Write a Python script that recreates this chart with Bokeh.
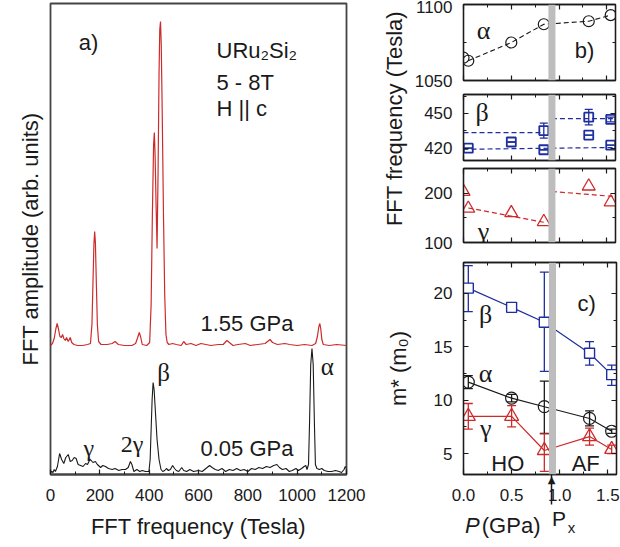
import math
from bokeh.plotting import figure
from bokeh.models import (Range1d, LinearAxis, FixedTicker, PrintfTickFormatter, Label,
                          Span, Whisker, TeeHead, ColumnDataSource, CustomLabelingPolicy, GridBox)
from bokeh.layouts import row, column
from bokeh.embed import file_html
from bokeh.resources import INLINE

# ---------------- panel a) FFT spectra ----------------
freq_155 = [0, 8, 15, 22, 27, 32, 38, 44, 49, 54, 60, 65, 72, 80, 86, 95, 110, 130, 150, 162,
            168, 172, 176, 179, 182, 186, 190, 195, 205, 230, 250, 262, 275, 300, 330, 345,
            352, 360, 366, 372, 390, 402, 408, 413, 418, 421, 424, 428, 432, 436, 440, 443,
            446, 449, 453, 458, 463, 468, 473, 480, 495, 510, 530, 540, 550, 570, 590, 610,
            630, 650, 680, 700, 715, 725, 740, 760, 790, 810, 840, 870, 890, 900, 920, 950,
            970, 1000, 1030, 1060, 1075, 1082, 1088, 1092, 1096, 1100, 1106, 1130, 1160, 1200]
amp_155 = [129, 131, 136, 146, 151, 146, 138, 137, 140, 136, 134, 137, 133, 137, 132, 130, 129,
           129, 130, 131, 150, 190, 230, 243, 232, 190, 150, 133, 130, 130, 131, 133, 130, 129,
           129, 131, 136, 142, 137, 130, 129, 132, 170, 260, 330, 342, 320, 270, 226, 300, 400,
           445, 453, 430, 360, 260, 180, 140, 132, 130, 131, 130, 129, 133, 130, 131, 129, 131,
           130, 129, 130, 130, 134, 132, 129, 130, 131, 129, 130, 131, 135, 132, 130, 131, 130,
           129, 130, 129, 131, 138, 148, 151, 145, 135, 130, 129, 130, 129]

freq_005 = [0, 5, 10, 15, 20, 28, 37, 45, 54, 62, 72, 80, 88, 96, 104, 112, 122, 132, 142, 150,
            160, 165, 172, 182, 190, 203, 212, 223, 235, 250, 262, 277, 290, 304, 315, 324, 330,
            338, 350, 362, 372, 385, 399, 404, 408, 412, 416, 420, 426, 432, 440, 448, 455, 463,
            470, 478, 486, 495, 503, 510, 520, 532, 540, 552, 565, 580, 600, 615, 630, 645, 655,
            668, 680, 695, 710, 725, 740, 755, 770, 785, 800, 815, 830, 845, 860, 875, 890, 905,
            918, 928, 940, 955, 968, 980, 995, 1005, 1018, 1028, 1035, 1040, 1046, 1050, 1055,
            1060, 1065, 1070, 1074, 1080, 1090, 1100, 1110, 1125, 1140, 1155, 1170, 1180, 1190,
            1195, 1200]
amp_005 = [2, 3, 2, 5, 3, 8, 21, 15, 11, 17, 20, 13, 14, 17, 16, 10, 9, 8, 11, 10, 15, 14, 12,
           13, 10, 7, 9, 8, 6, 5, 6, 4, 5, 5, 7, 13, 10, 3, 5, 3, 4, 3, 3, 15, 45, 75, 92, 85, 60,
           35, 15, 5, 3, 4, 6, 4, 5, 9, 6, 4, 3, 7, 4, 3, 5, 3, 4, 3, 6, 9, 7, 5, 4, 6, 3, 5, 4, 6,
           4, 5, 3, 6, 5, 7, 6, 8, 7, 9, 10, 7, 5, 6, 3, 4, 6, 4, 6, 8, 9, 5, 10, 50, 110, 126,
           110, 50, 10, 6, 5, 6, 4, 3, 3, 4, 3, 2, 5, 8, 6]

freq_ticks = [0, 200, 400, 600, 800, 1000, 1200]
freq_minor = [100, 300, 500, 700, 900, 1100]

# ---------------- panel b) frequencies vs pressure ----------------
P_alpha_f = [0.0, 0.05, 0.5, 0.84, 1.31, 1.54]
F_alpha = [1065, 1063, 1075, 1087, 1089, 1093]

P_beta_f = [0.05, 0.5, 0.84, 0.84, 1.31, 1.31, 1.54, 1.54]
F_beta = [420, 425.3, 418.6, 435.2, 446.8, 431.3, 444.8, 422.6]
F_beta_err = [0, 0, 0, 6.5, 6.7, 0, 2.0, 0]
beta_lo_P = [0.0, 1.59]
beta_lo_F = [419.0, 420.6]
beta_hiL_P = [0.0, 0.84]
beta_hiL_F = [433.5, 433.5]
beta_hiR_P = [0.925, 1.59]
beta_hiR_F = [445.6, 445.6]

P_gamma_f = [0.0, 0.05, 0.5, 0.84, 1.31, 1.54]
F_gamma = [203, 169, 160, 142, 214, 182]
gamma_L_P = [0.05, 0.84]
gamma_L_F = [170, 141]
gamma_R_P = [0.925, 1.59]
gamma_R_F = [203.4, 193]

# ---------------- panel c) effective masses ----------------
P_mass = [0.05, 0.5, 0.84, 1.31, 1.54]
m_beta = [20.5, 18.7, 17.3, 14.4, 12.4]
m_beta_lo = [18.3, 18.5, 12.7, 13.3, 11.4]
m_beta_hi = [22.6, 18.9, 22.0, 15.5, 13.3]
m_alpha = [11.7, 10.2, 9.4, 8.3, 7.1]
m_alpha_lo = [11.1, 9.85, 6.9, 7.6, 6.9]
m_alpha_hi = [12.3, 10.55, 11.8, 9.0, 7.3]
m_gamma = [8.5, 8.5, 5.3, 6.6, 5.4]
m_gamma_lo = [7.3, 7.5, 3.35, 5.8, 5.0]
m_gamma_hi = [9.7, 9.5, 6.85, 7.4, 5.8]

P_x = 0.925
P_arrow = 0.915
P_lo, P_hi = 0.0, 1.59
P_ticks = [0.0, 0.5, 1.0, 1.5]
P_minor = [0.25, 0.75, 1.25]
M_lo, M_hi = 3.05, 22.9

RED = "#cc2b2b"
BLUE = "#1f2e9e"
BLK = "#1a1a1a"
GRAY = "#bdbdbd"
SANS = "Liberation Sans"
SERIF = "Liberation Serif"

HIDE = "for (const i of indices) { indices.unset(i) }\nreturn indices"


def hide_labels(ax):
    ax.major_label_text_font_size = "1px"
    ax.major_label_standoff = 0
    ax.major_label_policy = CustomLabelingPolicy(code=HIDE)


def style_axis(ax, ticks, minor, labels=True, fmt=None, standoff=11):
    ax.ticker = FixedTicker(ticks=ticks, minor_ticks=minor)
    ax.major_tick_in = 5
    ax.major_tick_out = 0
    ax.minor_tick_in = 3
    ax.minor_tick_out = 0
    ax.axis_line_color = BLK
    ax.axis_line_width = 1.3
    ax.major_tick_line_color = BLK
    ax.minor_tick_line_color = BLK
    ax.major_tick_line_width = 1.2
    ax.minor_tick_line_width = 1.0
    if labels:
        ax.major_label_text_font = SANS
        ax.major_label_text_font_size = "17px"
        ax.major_label_text_color = BLK
        ax.major_label_standoff = standoff
        if fmt:
            ax.formatter = PrintfTickFormatter(format=fmt)
    else:
        hide_labels(ax)


def axis_title(ax, text, standoff):
    ax.axis_label = text
    ax.axis_label_text_font = SANS
    ax.axis_label_text_font_size = "22px"
    ax.axis_label_text_font_style = "normal"
    ax.axis_label_text_color = BLK
    ax.axis_label_standoff = standoff


def mk_label(x, y, text, size="22px", font=SANS, align="center", style="normal", color=BLK, angle=0):
    return Label(x=x, y=y, text=text, text_font=font, text_font_size=size,
                 text_align=align, text_baseline="middle", text_color=color,
                 text_font_style=style, angle=angle)


def lab(p, *args, **kw):
    p.add_layout(mk_label(*args, **kw))


def bare(width, height, xr, yr, left=0, right=0, top=0, bottom=0):
    p = figure(width=width, height=height, x_range=xr, y_range=yr,
               output_backend="svg", toolbar_location=None, x_axis_type=None, y_axis_type=None,
               min_border_left=left, min_border_right=right, min_border_top=top,
               min_border_bottom=bottom, background_fill_color=None, border_fill_color=None)
    p.outline_line_color = None
    p.grid.visible = False
    return p


# ---------------- left figure: a) ----------------
pa = figure(width=380, height=547, x_range=Range1d(0, 1200), y_range=Range1d(0, 471),
            output_backend="svg", toolbar_location=None,
            min_border_left=50, min_border_right=34, min_border_top=3, min_border_bottom=73)
pa.grid.visible = False
pa.outline_line_color = "#444444"
pa.outline_line_width = 1.8
style_axis(pa.xaxis[0], freq_ticks, freq_minor, fmt="%d", standoff=14)
axis_title(pa.xaxis[0], "FFT frequency (Tesla)", 10)
pa.xaxis[0].axis_line_color = "#444444"
pa.xaxis[0].axis_line_width = 1.8
ya = pa.yaxis[0]
ya.ticker = FixedTicker(ticks=[])
ya.axis_line_color = None
axis_title(ya, "FFT amplitude (arb. units)", 8)

pa.line(freq_155, amp_155, line_color=RED, line_width=1.2)
pa.line(freq_005, amp_005, line_color=BLK, line_width=1.1)

lab(pa, 154, 432, "a)")
lab(pa, 673, 424, "URu₂Si₂", align="left")
lab(pa, 673, 392, "5 - 8T", align="left")
lab(pa, 673, 366, "H || c", align="left")
lab(pa, 608, 151, "1.55 GPa", align="left")
lab(pa, 608, 26, "0.05 GPa", align="left")
lab(pa, 459, 102, "β", size="25px", font=SERIF)
lab(pa, 1122, 108, "α", size="25px", font=SERIF)
lab(pa, 155, 27, "γ", size="24px", font=SERIF)
lab(pa, 331, 31, "2γ", size="24px", font=SERIF)


# ---------------- right panels ----------------
def panel(width, height, y0, y1, left, top, bottom, yt, ym, xlabels=False):
    p = figure(width=width, height=height, x_range=Range1d(P_lo, P_hi), y_range=Range1d(y0, y1),
               output_backend="svg", toolbar_location=None,
               min_border_left=left, min_border_right=1, min_border_top=top,
               min_border_bottom=bottom)
    p.grid.visible = False
    p.outline_line_color = BLK
    p.outline_line_width = 1.3
    style_axis(p.yaxis[0], yt, ym)
    style_axis(p.xaxis[0], P_ticks, P_minor, labels=xlabels, fmt="%.1f", standoff=14)
    ra = LinearAxis()
    style_axis(ra, yt, ym, labels=False)
    p.add_layout(ra, "right")
    ta = LinearAxis()
    style_axis(ta, P_ticks, P_minor, labels=False)
    p.add_layout(ta, "above")
    p.add_layout(Span(location=P_x, dimension="height", line_color=GRAY, line_width=7))
    return p


def whiskers(p, x, lo, hi, color, w=9):
    src = ColumnDataSource(dict(x=x, lo=lo, hi=hi))
    p.add_layout(Whisker(base="x", lower="lo", upper="hi", source=src, dimension="height",
                         line_color=color, line_width=1.3,
                         upper_head=TeeHead(size=w, line_color=color, line_width=1.3),
                         lower_head=TeeHead(size=w, line_color=color, line_width=1.3)))


# alpha frequency
pb1 = panel(212, 90, 1050, 1100, 55, 4, 10, [1050, 1100], [1075])
pb1.line(P_alpha_f[1:], F_alpha[1:], line_color=BLK, line_dash="5 3", line_width=1.1)
pb1.scatter(P_alpha_f, F_alpha, marker="circle", size=11, fill_color=None,
            line_color=BLK, line_width=1.2)
lab(pb1, 0.21, 1083, "α", size="26px", font=SERIF)
lab(pb1, 1.265, 1070, "b)")

# beta frequency
pb2 = panel(212, 74, 409.3, 466.4, 55, 0, 1, [420, 450], [435, 465])
pb2.line(beta_lo_P, beta_lo_F, line_color=BLUE, line_dash="5 3", line_width=1.2)
pb2.line(beta_hiL_P, beta_hiL_F, line_color=BLUE, line_dash="5 3", line_width=1.2)
pb2.line(beta_hiR_P, beta_hiR_F, line_color=BLUE, line_dash="5 3", line_width=1.2)
whiskers(pb2, P_beta_f, [f - e for f, e in zip(F_beta, F_beta_err)],
         [f + e for f, e in zip(F_beta, F_beta_err)], BLUE, w=8)
pb2.scatter(P_beta_f, F_beta, marker="square", size=9, fill_color=None,
            line_color=BLUE, line_width=1.8)
lab(pb2, 0.194, 451, "β", size="26px", font=SERIF)

# gamma frequency
pb3 = panel(212, 94, 100, 250, 55, 2, 16, [100, 200], [150, 250])
pb3.line(gamma_L_P, gamma_L_F, line_color=RED, line_dash="5 3", line_width=1.2)
pb3.line(gamma_R_P, gamma_R_F, line_color=RED, line_dash="5 3", line_width=1.2)
pb3.scatter(P_gamma_f, F_gamma, marker="triangle", size=13, fill_color=None,
            line_color=RED, line_width=1.3)
lab(pb3, 0.21, 122, "γ", size="26px", font=SERIF)

# shared y-title of the b) panels
pl = bare(28, 258, Range1d(0, 28), Range1d(0, 258))
lab(pl, 14, 140, "FFT frequency (Tesla)", angle=math.pi / 2)

# effective mass c)
WD, HD, LD, TD, BD = 240, 289, 83, 3, 73
pc = panel(WD, HD, M_lo, M_hi, LD, TD, BD, [5, 10, 15, 20], [7.5, 12.5, 17.5], xlabels=True)
axis_title(pc.yaxis[0], "m* (m₀)", 20)

pc.line(P_mass, m_beta, line_color=BLUE, line_width=1.2, level="underlay")
pc.line(P_mass, m_alpha, line_color=BLK, line_width=1.1, level="underlay")
pc.line(P_mass, m_gamma, line_color=RED, line_width=1.2, level="underlay")
whiskers(pc, P_mass, m_beta_lo, m_beta_hi, BLUE)
whiskers(pc, P_mass, m_alpha_lo, m_alpha_hi, BLK)
whiskers(pc, P_mass, m_gamma_lo, m_gamma_hi, RED)
pc.scatter(P_mass, m_beta, marker="square", size=10, fill_color="white",
           line_color=BLUE, line_width=1.4)
pc.scatter(P_mass, m_alpha, marker="circle", size=12, fill_color=None,
           line_color=BLK, line_width=1.2)
pc.scatter(P_mass, m_gamma, marker="triangle", size=14, fill_color=None,
           line_color=RED, line_width=1.3)
lab(pc, 0.23, 18.0, "β", size="26px", font=SERIF)
lab(pc, 0.23, 12.5, "α", size="26px", font=SERIF)
lab(pc, 0.23, 7.4, "γ", size="26px", font=SERIF)
lab(pc, 1.28, 19.1, "c)")
lab(pc, 0.46, 4.07, "HO")
lab(pc, 1.27, 4.07, "AF")


# transparent overlays sharing the c) frame; their texts sit below the pressure axis
def overlay():
    return bare(WD, HD, Range1d(P_lo, P_hi), Range1d(M_lo, M_hi),
                left=LD, right=1, top=TD, bottom=BD)


ov_arrow = overlay()
px_axis = LinearAxis(ticker=FixedTicker(ticks=[P_arrow], minor_ticks=[]))
px_axis.major_tick_in = 0
px_axis.major_tick_out = 30
px_axis.major_tick_line_width = 1.5
px_axis.major_tick_line_color = BLK
px_axis.axis_line_color = None
hide_labels(px_axis)
ov_arrow.add_layout(px_axis, "below")
ov_arrow.add_layout(mk_label(P_arrow, 2.55, "▲", size="10px", font="DejaVu Sans"), "below")

ov_title = overlay()
ov_title.add_layout(mk_label(0.092, -1.70, "P", style="italic"), "below")
ov_title.add_layout(mk_label(0.19, -1.70, "(GPa)", align="left"), "below")

ov_px = overlay()
ov_px.add_layout(mk_label(0.993, -1.10, "P", size="21px"), "below")
ov_px.add_layout(mk_label(1.122, -1.94, "x", size="15px"), "below")

c_box = GridBox(children=[(pc, 0, 0), (ov_arrow, 0, 0), (ov_title, 0, 0), (ov_px, 0, 0)])

right = column(row(pl, column(pb1, pb2, pb3, spacing=0), spacing=0), c_box, spacing=0)
layout = row(pa, right, spacing=0)

open("out.html", "w").write(file_html(layout, INLINE))
